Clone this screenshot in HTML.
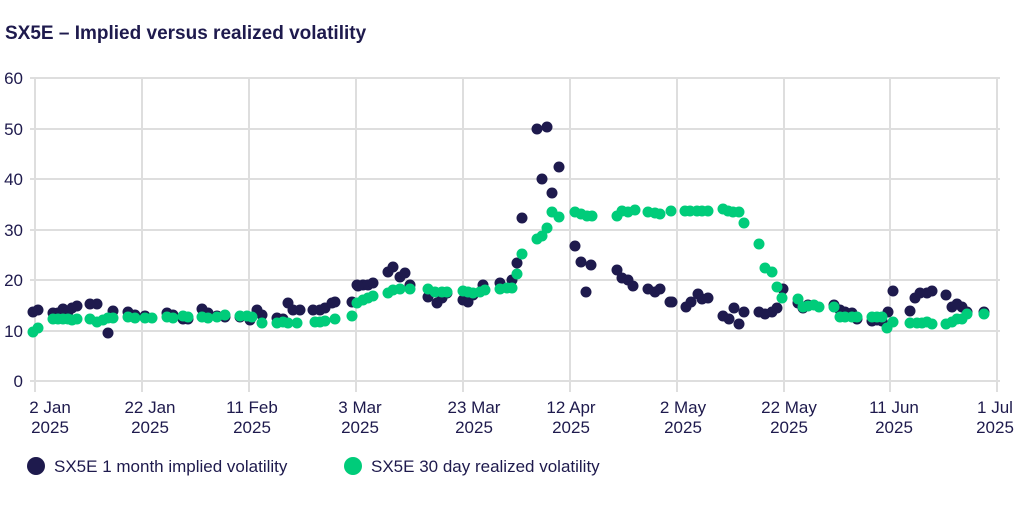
<!DOCTYPE html>
<html><head><meta charset="utf-8"><style>
body{margin:0;background:#fff;width:1024px;height:500px;overflow:hidden;font-family:"Liberation Sans",sans-serif;}
svg text{font-family:"Liberation Sans",sans-serif;fill:#1e1a4d}
</style></head><body>
<svg id="s" width="1024" height="500" xmlns="http://www.w3.org/2000/svg">
<text x="5" y="39" font-size="19" font-weight="bold">SX5E – Implied versus realized volatility</text>
<g stroke="#dedede" stroke-width="2">
<line x1="30" y1="78" x2="1000" y2="78"/><line x1="30" y1="129" x2="1000" y2="129"/>
<line x1="30" y1="179" x2="1000" y2="179"/><line x1="30" y1="230" x2="1000" y2="230"/>
<line x1="30" y1="280" x2="1000" y2="280"/><line x1="30" y1="331" x2="1000" y2="331"/>
<line x1="30" y1="381" x2="1000" y2="381"/>
<line x1="35" y1="78" x2="35" y2="392"/><line x1="142" y1="78" x2="142" y2="392"/>
<line x1="249" y1="78" x2="249" y2="392"/><line x1="356" y1="78" x2="356" y2="392"/>
<line x1="463" y1="78" x2="463" y2="392"/><line x1="570" y1="78" x2="570" y2="392"/>
<line x1="677" y1="78" x2="677" y2="392"/><line x1="784" y1="78" x2="784" y2="392"/>
<line x1="890" y1="78" x2="890" y2="392"/><line x1="997" y1="78" x2="997" y2="392"/>
</g>
<g font-size="17" text-anchor="end">
<text x="23" y="84">60</text><text x="23" y="135">50</text><text x="23" y="185">40</text>
<text x="23" y="236">30</text><text x="23" y="286">20</text><text x="23" y="337">10</text><text x="23" y="387">0</text>
</g>
<g font-size="17" text-anchor="middle">
<text x="50" y="413">2 Jan</text><text x="50" y="433">2025</text>
<text x="150" y="413">22 Jan</text><text x="150" y="433">2025</text>
<text x="252" y="413">11 Feb</text><text x="252" y="433">2025</text>
<text x="360" y="413">3 Mar</text><text x="360" y="433">2025</text>
<text x="474" y="413">23 Mar</text><text x="474" y="433">2025</text>
<text x="571" y="413">12 Apr</text><text x="571" y="433">2025</text>
<text x="683" y="413">2 May</text><text x="683" y="433">2025</text>
<text x="789" y="413">22 May</text><text x="789" y="433">2025</text>
<text x="894" y="413">11 Jun</text><text x="894" y="433">2025</text>
<text x="995" y="413">1 Jul</text><text x="995" y="433">2025</text>
</g>
<g id="dk" fill="#1e1a4d"></g>
<g id="gr" fill="#00cc7a"></g>
<circle cx="36" cy="466" r="9" fill="#1e1a4d"/>
<text x="54" y="472" font-size="17">SX5E 1 month implied volatility</text>
<circle cx="353" cy="466" r="9" fill="#00cc7a"/>
<text x="371" y="472" font-size="17">SX5E 30 day realized volatility</text>
</svg>
<script>
var D=[33,312,38,310,53,313,58,313,63,309,68,312,72,308,77,306,90,304,97,304,113,311,108,333,128,312,135,315,145,316,167,313,173,315,183,319,188,319,202,309,208,313,217,316,225,317,240,317,250,320,257,310,262,315,277,318,283,319,288,303,293,310,300,310,313,310,320,310,325,308,332,303,335,302,352,302,357,285,363,285,368,285,
358,286,373,283,388,272,393,267,400,277,405,273,410,285,428,297,437,303,442,298,447,293,463,300,468,302,473,295,483,285,500,283,512,280,517,263,522,218,537,129,542,179,547,127,552,193,559,167,575,246,581,262,586,292,591,265,617,270,622,278,628,280,633,286,648,289,655,292,660,289,670,302,
672,302,686,307,691,302,698,294,702,299,708,298,723,316,729,319,734,308,739,324,744,312,759,312,765,314,772,312,777,308,783,289,798,303,803,308,808,305,834,305,840,310,845,312,852,313,857,319,872,321,877,320,882,321,888,312,893,291,910,311,915,298,920,293,927,293,932,291,946,295,952,307,957,304,962,307,967,312,984,312];
var G=[33,332,38,328,53,319,58,319,63,319,68,319,72,320,77,319,90,319,97,322,103,320,108,318,113,318,128,317,135,318,145,318,152,318,167,317,173,318,183,316,188,317,202,317,208,318,217,317,225,315,240,316,247,316,252,317,262,323,277,323,283,322,288,323,297,323,315,322,320,322,325,321,335,319,352,316,357,303,363,300,368,298,373,296,388,293,393,290,400,289,410,289,428,289,435,292,442,292,447,292,463,291,468,292,473,293,480,292,485,290,500,289,507,288,512,288,517,274,522,254,537,239,542,236,547,228,552,212,559,217,575,212,581,214,587,216,592,216,617,216,622,211,628,212,635,210,648,212,655,213,660,214,671,211,685,211,690,211,697,211,702,211,708,211,723,209,728,211,733,212,739,212,744,223,759,244,765,268,772,272,777,287,782,298,798,299,803,307,808,306,814,305,819,307,834,307,840,317,845,317,852,317,857,317,872,317,877,317,882,317,887,328,893,322,910,323,917,323,922,323,927,322,932,324,946,324,952,322,957,319,962,319,967,314,984,314];
function put(id,a){var g=document.getElementById(id),h='';for(var i=0;i<a.length;i+=2)h+='<circle cx="'+a[i]+'" cy="'+a[i+1]+'" r="5.5"/>';g.innerHTML=h;}
put('dk',D);put('gr',G);
</script>
</body></html>
